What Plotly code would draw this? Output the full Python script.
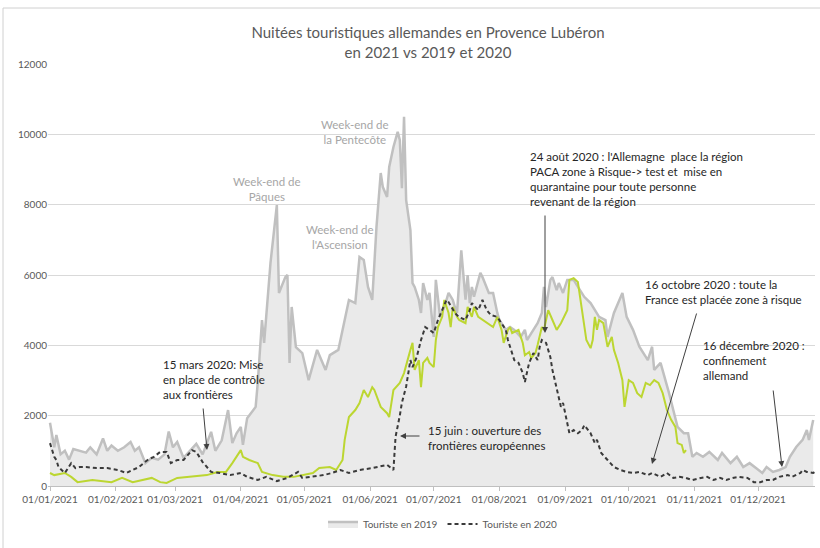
import plotly.graph_objects as go
import pandas as pd

# ---- data (day offsets from 01/01/2021, values) ----
days_2019 = [0,1,2,3,5,7,9,11,14,17,19,22,25,27,29,32,35,38,40,42,45,48,51,54,56,58,60,63,66,69,72,76,78,81,84,86,88,90,91,93,97,98,100,101,104,107,108,111,112,113,114,116,119,122,126,130,132,136,137,141,144,146,148,150,152,154,156,157,159,160,162,164,165,166,167,168,170,171,172,174,175,176,178,179,181,182,184,186,188,190,191,192,194,196,197,198,199,200,203,204,207,209,211,212,215,217,219,222,224,225,228,230,232,233,234,236,237,239,240,242,244,247,250,252,255,257,259,262,263,266,270,272,275,278,282,284,285,288,290,292,294,296,299,301,303,305,308,311,315,317,321,324,327,330,333,336,338,341,344,347,349,352,355,357,358,360]
vals_2019 = [1800,1500,1100,1450,900,1000,750,1050,1000,950,1100,900,1350,1000,1150,1000,1100,1250,1000,1100,650,800,750,900,1550,1100,1250,800,1000,1200,900,1540,1000,1300,2160,1220,1500,1680,1170,1930,2250,2930,4720,4070,6340,7990,5490,5940,6000,3500,5090,3950,3780,3010,3870,3300,3720,3870,4150,5290,5200,6510,6430,5660,5290,7360,8900,8500,8220,9070,9640,10070,9840,8470,10500,8130,7280,5770,5660,5290,4920,5770,5290,5490,4240,5860,4810,5090,5490,5290,5090,4920,6700,5300,6000,5200,5660,5380,6060,5940,5490,5490,4920,4720,4440,4520,4440,4240,4440,4150,4440,4630,4920,5660,5090,5860,5940,5570,5770,5490,5860,5860,5570,5380,5200,5000,4810,4720,4240,4920,5490,4810,4440,3960,3580,3960,3300,3500,3100,2640,2160,1680,1500,1500,830,940,830,970,740,940,650,830,540,650,510,370,540,400,455,540,830,1110,1310,1590,1310,1880]

days_2020 = [0,2,3,4,7,10,12,14,17,22,27,32,36,39,42,46,49,52,55,57,60,63,67,69,72,76,80,85,90,93,98,102,107,112,117,119,124,129,133,137,141,146,152,159,162,163,165,166,168,170,171,173,175,177,179,181,183,185,187,188,191,193,196,198,199,202,204,206,208,211,213,215,216,218,219,221,223,224,225,226,228,230,231,232,234,236,237,239,241,242,244,245,247,249,251,252,255,257,258,260,263,266,269,272,275,278,282,284,288,291,294,297,300,303,307,310,313,316,319,322,325,329,332,335,338,341,344,348,350,354,355,357,360,362]
vals_2020 = [1220,830,740,540,370,650,510,540,540,510,510,455,370,455,540,740,830,970,970,650,740,740,1020,970,680,400,370,310,370,260,170,260,140,230,400,230,260,310,370,455,370,455,510,600,455,1400,2000,2370,2830,3580,3380,3670,4150,4520,4440,4350,4720,5000,5290,5230,4920,4800,4720,5000,5200,5000,5290,5000,4860,4810,4630,4440,4150,3780,3580,3500,3210,2960,3210,3500,3780,3580,3960,4150,4070,3670,3300,2730,2250,2360,1790,1500,1590,1500,1590,1730,1500,1220,1310,940,740,540,455,400,370,400,310,370,260,370,230,260,230,170,230,260,170,230,170,230,260,230,110,110,170,170,260,310,260,370,455,400,370,455]

days_2021 = [0,2,7,10,13,20,29,34,39,44,48,52,55,60,66,74,79,83,86,90,91,94,98,100,105,110,115,119,124,127,132,135,138,139,141,144,146,148,150,152,153,156,159,160,162,165,167,170,171,172,174,175,176,178,179,181,182,183,185,186,188,189,190,192,193,196,197,199,200,202,204,206,209,211,213,214,216,217,218,221,223,224,226,227,229,230,232,233,235,237,239,241,244,245,247,249,250,251,253,255,256,257,258,259,261,263,265,266,268,270,271,273,275,277,279,281,283,285,287,289,290,291,293,295,296,298,299,300]
vals_2021 = [370,310,370,260,110,170,110,230,110,170,230,110,85,230,260,310,400,400,650,1020,830,740,650,400,310,260,260,310,370,510,540,455,740,1310,1960,2160,2360,2730,2530,2810,2730,2250,2070,1960,2730,2930,3210,3870,4070,3300,3580,2810,3500,3640,3500,3380,4150,4520,4810,5290,4920,4520,5090,4810,4720,4630,5090,4810,5090,4810,4720,4630,4520,4810,4440,4070,4440,4520,4350,4440,4070,3720,3810,3640,3780,4010,4520,4440,5000,4720,4440,4630,5000,5860,5910,5800,5380,5000,4150,3920,4150,4810,4440,4720,4630,3960,4240,3870,3500,3010,2250,3010,2930,2640,2530,2930,2870,3010,2930,2640,2360,2160,1880,1680,1220,1170,940,1020]

start = pd.Timestamp("2021-01-01")
def to_dates(days):
    return [start + pd.Timedelta(days=d) for d in days]

# ---- layout geometry (pixels) ----
W, H = 820, 548
L, R, T, B = 48, 815, 64, 486
def px(x):
    return (x - L) / (R - L)
def py(y):
    return (B - y) / (B - T)

PX_PER_DAY = 2.12
x0 = start + pd.Timedelta(days=-(50 - L) / PX_PER_DAY)
x1 = x0 + pd.Timedelta(days=(R - L) / PX_PER_DAY)

FONT = "Lato, 'Open Sans', sans-serif"

fig = go.Figure()
fig.add_trace(go.Scatter(
    x=to_dates(days_2019), y=vals_2019, name="Touriste en 2019",
    mode="lines", fill="tozeroy", fillcolor="#eaeaea",
    line=dict(color="#c0c0c0", width=2.5)))
fig.add_trace(go.Scatter(
    x=to_dates(days_2021), y=vals_2021, name="Touriste en 2021",
    mode="lines", showlegend=False,
    line=dict(color="#bcd631", width=2)))
fig.add_trace(go.Scatter(
    x=to_dates(days_2020), y=vals_2020, name="Touriste en 2020",
    mode="lines", line=dict(color="#3a3a3a", width=2, dash="4px,3px")))

annotations = []
def text_ann(text, x, y, color, xanchor="left", size=11.5):
    annotations.append(dict(
        text=text, xref="paper", yref="paper", x=px(x), y=py(y),
        xanchor=xanchor, yanchor="top", align="center" if xanchor == "center" else "left",
        showarrow=False, font=dict(family=FONT, size=size, color=color)))

def arrow(hx, hy, tx, ty):
    annotations.append(dict(
        text="", xref="paper", yref="paper", x=px(hx), y=py(hy),
        ax=tx - hx, ay=ty - hy, showarrow=True, arrowhead=2, arrowsize=1.2,
        arrowwidth=1, arrowcolor="#404040"))

GRAY_TXT = "#a6a6a6"
DARK_TXT = "#262626"
text_ann("Week-end de<br>Pâques", 267, 173, GRAY_TXT, "center")
text_ann("Week-end de<br>la Pentecôte", 355, 116, GRAY_TXT, "center")
text_ann("Week-end de<br>l'Ascension", 340, 221, GRAY_TXT, "center")
text_ann("24 août 2020 : l'Allemagne  place la région<br>PACA zone à Risque-> test et  mise en<br>quarantaine pour toute personne<br>revenant de la région", 528, 148, DARK_TXT)
text_ann("16 octobre 2020 : toute la<br>France est placée zone à risque", 643, 276, DARK_TXT)
text_ann("16 décembre 2020 :<br>confinement<br>allemand", 701, 337, DARK_TXT)
text_ann("15 mars 2020: Mise<br>en place de contrôle<br>aux frontières", 161, 356, DARK_TXT)
text_ann("15 juin : ouverture des<br>frontières européennes", 426, 422, DARK_TXT)

arrow(545, 333, 545, 214)
arrow(652, 464, 697, 312)
arrow(782, 467, 773, 389)
arrow(207, 450, 203, 407)
arrow(400, 436, 421, 436)

shapes = [
    dict(type="line", xref="paper", yref="paper", x0=px(3), x1=px(3), y0=py(8), y1=py(548),
         line=dict(color="#d0d0d0", width=1)),
    dict(type="line", xref="paper", yref="paper", x0=px(3), x1=px(820), y0=py(8), y1=py(8),
         line=dict(color="#d0d0d0", width=1)),
]

fig.update_layout(
    width=W, height=H,
    margin=dict(l=L, r=W - R, t=T, b=H - B, pad=0),
    paper_bgcolor="white", plot_bgcolor="white",
    font=dict(family=FONT, size=10, color="#595959"),
    title=dict(text="Nuitées touristiques allemandes en Provence Lubéron<br>en 2021 vs 2019 et 2020",
               x=px(428), xanchor="center", xref="paper", y=1 - 38 / H, yanchor="top",
               font=dict(family=FONT, size=15, color="#595959")),
    showlegend=True,
    legend=dict(orientation="h", x=px(443), xanchor="center", y=py(524), yanchor="middle",
                font=dict(family=FONT, size=10, color="#595959"), traceorder="normal",
                bgcolor="rgba(0,0,0,0)"),
    annotations=annotations,
    shapes=shapes,
)
fig.update_xaxes(range=[x0, x1], tick0="2021-01-01", dtick="M1", tickformat="%d/%m/%Y",
                 showgrid=False, showline=True, linecolor="#bfbfbf", linewidth=1,
                 ticks="outside", ticklen=4, tickcolor="#bfbfbf",
                 tickfont=dict(family=FONT, size=10, color="#595959"), fixedrange=True)
fig.update_yaxes(range=[0, 12000], dtick=2000, tickformat="d", showgrid=True,
                 gridcolor="#d9d9d9", gridwidth=1,
                 zeroline=False, showline=False, ticks="",
                 tickfont=dict(family=FONT, size=10, color="#595959"), fixedrange=True)

fig.write_html("out.html", config={"displayModeBar": False},
               post_script="document.body.style.margin='0';document.body.style.overflow='hidden';")
